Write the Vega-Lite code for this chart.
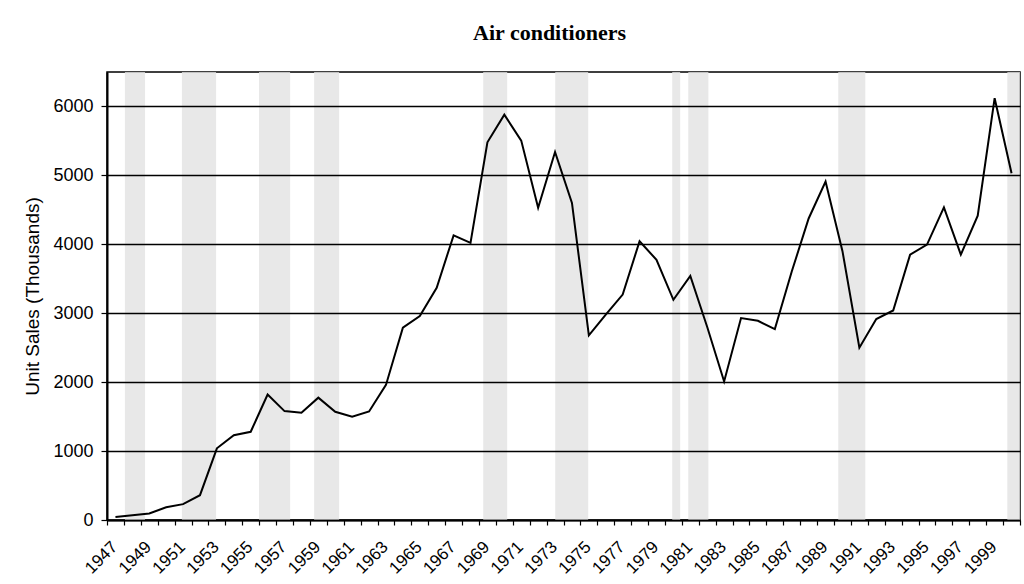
{
  "$schema": "https://vega.github.io/schema/vega-lite/v6.json",
  "autosize": {"type": "none"},
  "width": 913,
  "height": 448,
  "padding": {"left": 107, "top": 72, "right": 4, "bottom": 64},
  "background": "white",
  "title": {"text": "Air conditioners", "font": "Liberation Serif", "fontSize": 22, "fontWeight": "bold", "color": "black", "offset": 27, "dx": -14, "anchor": "middle"},
  "config": {
    "view": {"stroke": "black", "strokeWidth": 1.5},
    "axis": {"labelFont": "Liberation Sans", "titleFont": "Liberation Sans", "labelColor": "black", "titleColor": "black", "domainColor": "black", "tickColor": "black"}
  },
  "datasets": {
    "sales": [
      {"year": 1947, "sales": 45}, {"year": 1948, "sales": 70}, {"year": 1949, "sales": 95},
      {"year": 1950, "sales": 185}, {"year": 1951, "sales": 230}, {"year": 1952, "sales": 360},
      {"year": 1953, "sales": 1040}, {"year": 1954, "sales": 1230}, {"year": 1955, "sales": 1280},
      {"year": 1956, "sales": 1820}, {"year": 1957, "sales": 1580}, {"year": 1958, "sales": 1555},
      {"year": 1959, "sales": 1775}, {"year": 1960, "sales": 1570}, {"year": 1961, "sales": 1500},
      {"year": 1962, "sales": 1575}, {"year": 1963, "sales": 1960}, {"year": 1964, "sales": 2790},
      {"year": 1965, "sales": 2960}, {"year": 1966, "sales": 3370}, {"year": 1967, "sales": 4130},
      {"year": 1968, "sales": 4020}, {"year": 1969, "sales": 5480}, {"year": 1970, "sales": 5880},
      {"year": 1971, "sales": 5505}, {"year": 1972, "sales": 4530}, {"year": 1973, "sales": 5340},
      {"year": 1974, "sales": 4600}, {"year": 1975, "sales": 2680}, {"year": 1976, "sales": 2980},
      {"year": 1977, "sales": 3270}, {"year": 1978, "sales": 4045}, {"year": 1979, "sales": 3775},
      {"year": 1980, "sales": 3195}, {"year": 1981, "sales": 3540}, {"year": 1982, "sales": 2800},
      {"year": 1983, "sales": 2010}, {"year": 1984, "sales": 2930}, {"year": 1985, "sales": 2890},
      {"year": 1986, "sales": 2770}, {"year": 1987, "sales": 3605}, {"year": 1988, "sales": 4375},
      {"year": 1989, "sales": 4910}, {"year": 1990, "sales": 3900}, {"year": 1991, "sales": 2500},
      {"year": 1992, "sales": 2915}, {"year": 1993, "sales": 3040}, {"year": 1994, "sales": 3850},
      {"year": 1995, "sales": 3995}, {"year": 1996, "sales": 4535}, {"year": 1997, "sales": 3850},
      {"year": 1998, "sales": 4415}, {"year": 1999, "sales": 6120}, {"year": 2000, "sales": 5030}
    ],
    "recessions": [
      {"start": 1947.56, "end": 1948.75},
      {"start": 1950.93, "end": 1952.95},
      {"start": 1955.49, "end": 1957.33},
      {"start": 1958.75, "end": 1960.23},
      {"start": 1968.75, "end": 1970.17},
      {"start": 1973.01, "end": 1974.96},
      {"start": 1979.93, "end": 1980.4},
      {"start": 1980.88, "end": 1982.07},
      {"start": 1989.75, "end": 1991.35},
      {"start": 1999.75, "end": 2000.5}
    ]
  },
  "layer": [
    {
      "data": {"name": "recessions"},
      "mark": {"type": "rect", "color": "#e2e2e2", "opacity": 0.8},
      "encoding": {
        "x": {"field": "start", "type": "quantitative", "scale": {"domain": [1946.5, 2000.5], "nice": false, "zero": false},
          "axis": {
            "orient": "bottom",
            "values": [1946.5,1947.5,1948.5,1949.5,1950.5,1951.5,1952.5,1953.5,1954.5,1955.5,1956.5,1957.5,1958.5,1959.5,1960.5,1961.5,1962.5,1963.5,1964.5,1965.5,1966.5,1967.5,1968.5,1969.5,1970.5,1971.5,1972.5,1973.5,1974.5,1975.5,1976.5,1977.5,1978.5,1979.5,1980.5,1981.5,1982.5,1983.5,1984.5,1985.5,1986.5,1987.5,1988.5,1989.5,1990.5,1991.5,1992.5,1993.5,1994.5,1995.5,1996.5,1997.5,1998.5,1999.5,2000.5],
            "labels": false,
            "tickSize": 5,
            "tickWidth": 1.2,
            "domainWidth": 2,
            "grid": false,
            "title": null
          }
        },
        "x2": {"field": "end"}
      }
    },
    {
      "data": {"name": "sales"},
      "mark": {"type": "line", "color": "black", "strokeWidth": 2},
      "encoding": {
        "x": {"field": "year", "type": "quantitative",
          "axis": {
            "orient": "bottom",
            "values": [1947,1949,1951,1953,1955,1957,1959,1961,1963,1965,1967,1969,1971,1973,1975,1977,1979,1981,1983,1985,1987,1989,1991,1993,1995,1997,1999],
            "format": "d",
            "labelAngle": -45,
            "labelAlign": "right",
            "labelBaseline": "middle",
            "labelFontSize": 17,
            "labelPadding": 24,
            "labelOffset": -1,
            "labelOverlap": false,
            "labelFlush": false,
            "labelBound": false,
            "ticks": false,
            "domain": false,
            "grid": false,
            "title": null
          }
        },
        "y": {"field": "sales", "type": "quantitative", "scale": {"domain": [0, 6500], "nice": false},
          "axis": {
            "values": [0, 1000, 2000, 3000, 4000, 5000, 6000],
            "format": "d",
            "title": "Unit Sales (Thousands)",
            "titleFontSize": 19,
            "titleFontWeight": "normal",
            "titlePadding": 10,
            "labelFontSize": 18,
            "labelPadding": 8,
            "tickSize": 6,
            "tickWidth": 1.2,
            "domainWidth": 2,
            "grid": true,
            "gridColor": "black",
            "gridWidth": 1.3,
            "gridOpacity": 1,
            "zindex": 1
          }
        }
      }
    }
  ],
  "resolve": {"axis": {"x": "independent"}}
}
